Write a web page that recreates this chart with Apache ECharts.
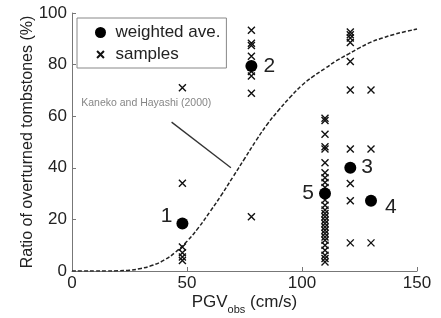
<!DOCTYPE html>
<html>
<head>
<meta charset="utf-8">
<script src="https://cdn.jsdelivr.net/npm/echarts@6/dist/echarts.min.js"></script>
<style>
  html, body { margin: 0; padding: 0; background: #fff; }
  #chart { width: 441px; height: 318px; }
</style>
</head>
<body>
<div id="chart"></div>
<script>
// tick labels
const xTicks = [0, 50, 100, 150]
const yTicks = [0, 20, 40, 60, 80, 100]

// Kaneko and Hayashi (2000) curve
const curveX = [0, 5, 10, 15, 20, 25, 30, 35, 40, 45, 50, 55, 60, 65, 70, 75, 80, 85, 90, 95, 100, 105, 110, 115, 120, 125, 130, 135, 140, 145, 150]
const curveY = [0, 0, 0, 0, 0.1, 0.3, 1.0, 2.2, 4.2, 7.3, 11.5, 16.8, 23, 29.5, 36.5, 43.5, 50.5, 57, 62.5, 67.5, 72, 75.5, 78.5, 81.5, 84, 86.5, 88.7, 90.3, 91.7, 92.8, 93.8]

// samples, grouped by PGV
const pgvLevels = [48, 78, 110, 121, 130]
const samples48 = [71, 34, 9.3, 7.1, 5.4, 4.1]
const samples78 = [93.3, 88.3, 87.4, 83.2, 77.3, 75.6, 68.9, 21]
const samples110 = [59.2, 58.3, 53, 48.2, 47.3, 42, 38.1, 36.1, 34.3, 32.4, 27.5, 25.5, 23.6, 22.3, 21, 19.7, 18.4, 17.1, 15.8, 14.5, 13.2, 11.9, 10, 8, 6.1, 4.8, 3.5]
const samples121 = [92.6, 91.6, 90.3, 88.6, 81.2, 70.2, 47.3, 33.9, 27.2, 10.9]
const samples130 = [70.2, 47.3, 10.9]

// weighted averages
const aveX = [48, 78, 121, 130, 110]
const aveY = [18.4, 79.5, 40, 27.2, 30]
const aveNames = ['1', '2', '3', '4', '5']

// annotation
const noteLineX = [43.3, 69.1]
const noteLineY = [57.7, 40]
const noteText = 'Kaneko and Hayashi (2000)'

const FONT = 'Liberation Sans'
const crossPath = 'path://M0,0L10,10M10,0L0,10'
const crossLegend = 'path://M-3,-3M13,13M0,0L10,10M10,0L0,10'

const sampleGroups = [samples48, samples78, samples110, samples121, samples130]
const sampleData = []
sampleGroups.forEach((g, i) => {
  g.forEach(v => sampleData.push([pgvLevels[i], v]))
})

// where each number sits next to its dot
const labelPlace = [
  { position: 'left', distance: 4, offset: [0, -7] },
  { position: 'right', distance: 6, offset: [0, 0] },
  { position: 'right', distance: 5, offset: [0, -1] },
  { position: 'right', distance: 8, offset: [0, 6] },
  { position: 'left', distance: 5, offset: [0, 0] }
]
const aveData = aveX.map((x, i) => ({
  value: [x, aveY[i]],
  name: aveNames[i],
  label: labelPlace[i]
}))

const chart = echarts.init(document.getElementById('chart'))

const options = {
  animation: false,
  textStyle: { fontFamily: FONT },
  grid: { left: 72, right: 24, top: 13, bottom: 47, outerBoundsMode: 'none' },
  legend: {
    data: [
      { name: 'weighted ave.', icon: 'circle' },
      { name: 'samples', icon: crossLegend }
    ],
    orient: 'vertical',
    left: 77,
    top: 18,
    padding: [6, 6, 5, 17],
    itemWidth: 20,
    itemHeight: 11,
    itemGap: 5,
    borderColor: '#888',
    borderWidth: 1,
    textStyle: { fontSize: 17, color: '#222', fontFamily: FONT }
  },
  xAxis: {
    type: 'value',
    min: 0,
    max: 150,
    interval: 50,
    name: '{a|PGV}{b|obs}{a| (cm/s)}',
    nameLocation: 'middle',
    nameMoveOverlap: false,
    nameGap: 23,
    nameTextStyle: {
      rich: {
        a: { fontSize: 17, color: '#222', fontFamily: FONT, verticalAlign: 'top' },
        b: { fontSize: 11, color: '#222', fontFamily: FONT, padding: [10, 0, 0, 0] }
      }
    },
    axisLine: { lineStyle: { color: '#777' } },
    axisTick: { inside: true, length: 4, lineStyle: { color: '#777' } },
    axisLabel: { fontSize: 17, color: '#222', margin: 4 },
    splitLine: { show: false }
  },
  yAxis: {
    type: 'value',
    min: 0,
    max: 100,
    interval: 20,
    name: 'Ratio of overturned tombstones (%)',
    nameLocation: 'middle',
    nameMoveOverlap: false,
    nameGap: 36,
    nameTextStyle: { fontSize: 16, color: '#222' },
    axisLine: { show: true, lineStyle: { color: '#777' } },
    axisTick: { show: true, inside: true, length: 4, lineStyle: { color: '#777' } },
    axisLabel: { fontSize: 17, color: '#222', margin: 5 },
    splitLine: { show: false }
  },
  series: [
    {
      name: 'curve',
      type: 'line',
      data: curveX.map((x, i) => [x, curveY[i]]),
      smooth: true,
      showSymbol: false,
      lineStyle: { color: '#222', width: 1.5, type: [4, 2] },
      silent: true,
      z: 1
    },
    {
      name: 'note',
      type: 'line',
      data: noteLineX.map((x, i) => [x, noteLineY[i]]),
      showSymbol: false,
      lineStyle: { color: '#333', width: 1.3 },
      silent: true
    },
    {
      name: 'note text',
      type: 'scatter',
      data: [[4, 65]],
      symbolSize: 0,
      label: {
        show: true,
        position: 'right',
        distance: 0,
        formatter: noteText,
        fontSize: 10.5,
        color: '#666'
      },
      silent: true
    },
    {
      name: 'samples',
      type: 'scatter',
      data: sampleData,
      symbol: crossPath,
      symbolSize: 7,
      itemStyle: { color: '#111', borderColor: '#111', borderWidth: 1.4, opacity: 1 },
      z: 3
    },
    {
      name: 'weighted ave.',
      type: 'scatter',
      data: aveData,
      symbol: 'circle',
      symbolSize: 12,
      itemStyle: { color: '#000', opacity: 1 },
      label: {
        show: true,
        formatter: '{b}',
        fontSize: 21,
        color: '#222',
        fontFamily: FONT
      },
      z: 4
    }
  ]
}

chart.setOption(options)
window.addEventListener('resize', function () {
  chart && chart.resize()
})
</script>
</body>
</html>
